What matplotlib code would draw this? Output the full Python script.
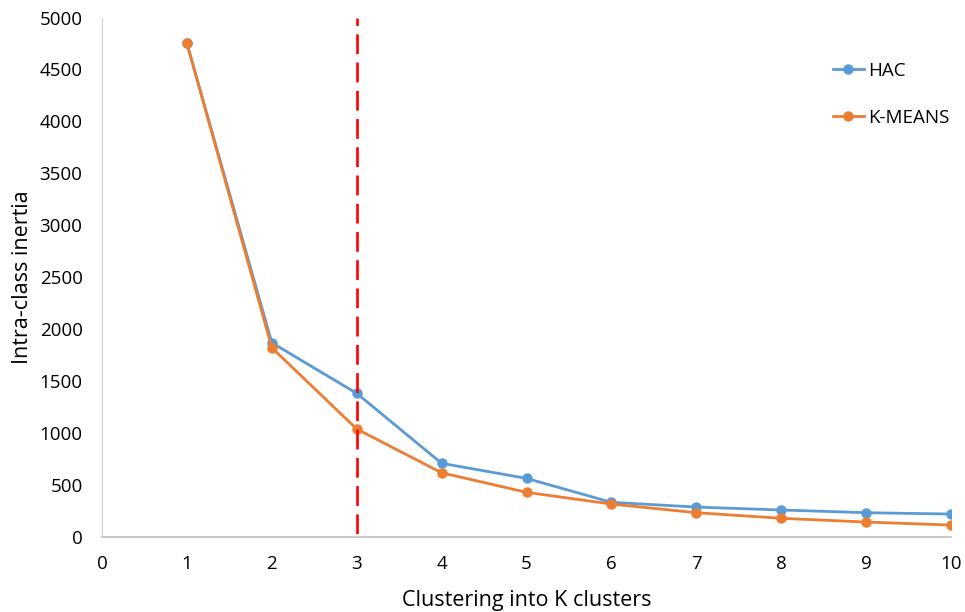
import matplotlib.pyplot as plt

plt.rcParams['font.family'] = ['Open Sans', 'DejaVu Sans']

k = [1, 2, 3, 4, 5, 6, 7, 8, 9, 10]
hac = [4752, 1872, 1385, 712, 567, 337, 291, 263, 237, 224]
kmeans = [4752, 1824, 1042, 621, 433, 320, 237, 183, 147, 118]
elbow_k = 3

fig = plt.figure(figsize=(9.65, 6.12), dpi=100)
ax = fig.add_axes([0.1057, 0.122, 0.8798, 0.8494])

ax.plot(k, hac, color='#5B9BD5', lw=2, marker='o', ms=6.5, label='HAC')
ax.plot(k, kmeans, color='#ED7D31', lw=2, marker='o', ms=6.5, label='K-MEANS')
# dashed elbow marker, drawn top-down so the dash pattern starts at the top
ax.plot([elbow_k, elbow_k], [5000, 0], color='#FF0000', lw=1.9,
        ls=(4.7, (7.5, 3.2)), zorder=3)

ax.set_xlim(0, 10)
ax.set_ylim(0, 5000)
ax.set_xticks(range(0, 11))
ax.set_yticks(range(0, 5001, 500))
ax.tick_params(length=0, labelsize=13.5)
ax.tick_params(axis='x', pad=13)
ax.tick_params(axis='y', pad=14)
for s in ['top', 'right']:
    ax.spines[s].set_visible(False)
ax.spines['left'].set_color('#D0D0D0')
ax.spines['bottom'].set_color('#C0C0C0')
ax.spines['bottom'].set_linewidth(1.2)

ax.set_xlabel('Clustering into K clusters', fontsize=15.5, labelpad=12)
ax.set_ylabel('Intra-class inertia', fontsize=15.5, labelpad=5)

ax.legend(loc='upper left', bbox_to_anchor=(0.863, 0.899), bbox_transform=fig.transFigure,
          frameon=False, fontsize=13.5, handlelength=1.65, handletextpad=0.25,
          labelspacing=1.56, borderpad=0, borderaxespad=0)

fig.savefig('out.png')
